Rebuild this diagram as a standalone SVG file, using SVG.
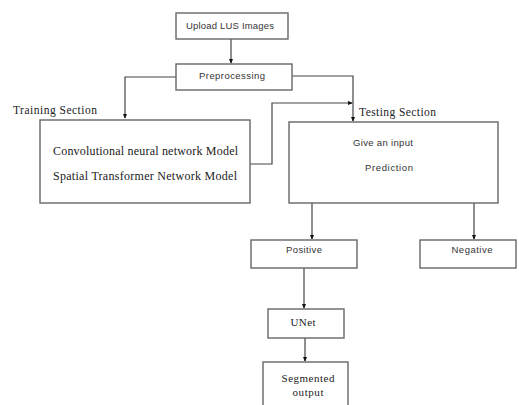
<svg xmlns="http://www.w3.org/2000/svg" width="519" height="405" viewBox="0 0 519 405">
<defs>
<marker id="ah" viewBox="0 0 6 6" refX="5" refY="3" markerWidth="5" markerHeight="5" orient="auto" markerUnits="userSpaceOnUse">
<path d="M0,0.5 L6,3 L0,5.5 Z" fill="#111"/>
</marker>
</defs>
<style>
.box{fill:#fff;stroke:#666;stroke-width:1.4}
.ln{fill:none;stroke:#444;stroke-width:1.2}
.s{font-family:"Liberation Sans",Arial,sans-serif;font-size:9.5px;fill:#333;text-anchor:middle}
.t{font-family:"Liberation Serif","Times New Roman",serif;fill:#222}
</style>
<rect width="519" height="405" fill="#fff"/>
<g id="connectors">
<path class="ln" d="M231,39 V63" marker-end="url(#ah)"/>
<path class="ln" d="M176,77 H125 V118" marker-end="url(#ah)"/>
<path class="ln" d="M292,76 H353 V121" marker-end="url(#ah)"/>
<path class="ln" d="M250,164 H272 V103 H352" marker-end="url(#ah)"/>
<path class="ln" d="M312,203 V239" marker-end="url(#ah)"/>
<path class="ln" d="M474,203 V239" marker-end="url(#ah)"/>
<path class="ln" d="M304,268 V308" marker-end="url(#ah)"/>
<path class="ln" d="M305,338 V361" marker-end="url(#ah)"/>
</g>
<g id="upload">
<rect class="box" x="176" y="13" width="112" height="26"/>
<text class="s" x="230" y="29" textLength="88">Upload LUS Images</text>
</g>
<g id="preprocessing">
<rect class="box" x="176" y="64" width="116" height="26"/>
<text class="s" x="232" y="79" textLength="66">Preprocessing</text>
</g>
<g id="training">
<text class="t" x="13" y="114" font-size="11.5" textLength="84">Training Section</text>
<rect class="box" x="40" y="120" width="210" height="83"/>
<text class="t" x="53" y="155" font-size="12" textLength="185">Convolutional neural network Model</text>
<text class="t" x="53" y="180" font-size="12" textLength="184">Spatial Transformer Network Model</text>
</g>
<g id="testing">
<text class="t" x="359" y="116" font-size="11.5" textLength="77">Testing Section</text>
<rect class="box" x="289" y="122" width="209" height="81"/>
<text class="s" x="383" y="146" textLength="60">Give an input</text>
<text class="s" x="389" y="171" textLength="48">Prediction</text>
</g>
<g id="positive">
<rect class="box" x="251" y="240" width="106" height="28"/>
<text class="s" x="304" y="253" textLength="36">Positive</text>
</g>
<g id="negative">
<rect class="box" x="420" y="240" width="96" height="28"/>
<text class="s" x="472" y="253" textLength="41">Negative</text>
</g>
<g id="unet">
<rect class="box" x="268" y="309" width="76" height="29"/>
<text class="t" x="303" y="326" font-size="11" text-anchor="middle" textLength="25">UNet</text>
</g>
<g id="segmented">
<rect class="box" x="263" y="362" width="85" height="50"/>
<text class="t" x="308" y="382" font-size="11" text-anchor="middle" textLength="53">Segmented</text>
<text class="t" x="308" y="396" font-size="11" text-anchor="middle" textLength="31">output</text>
</g>
</svg>
